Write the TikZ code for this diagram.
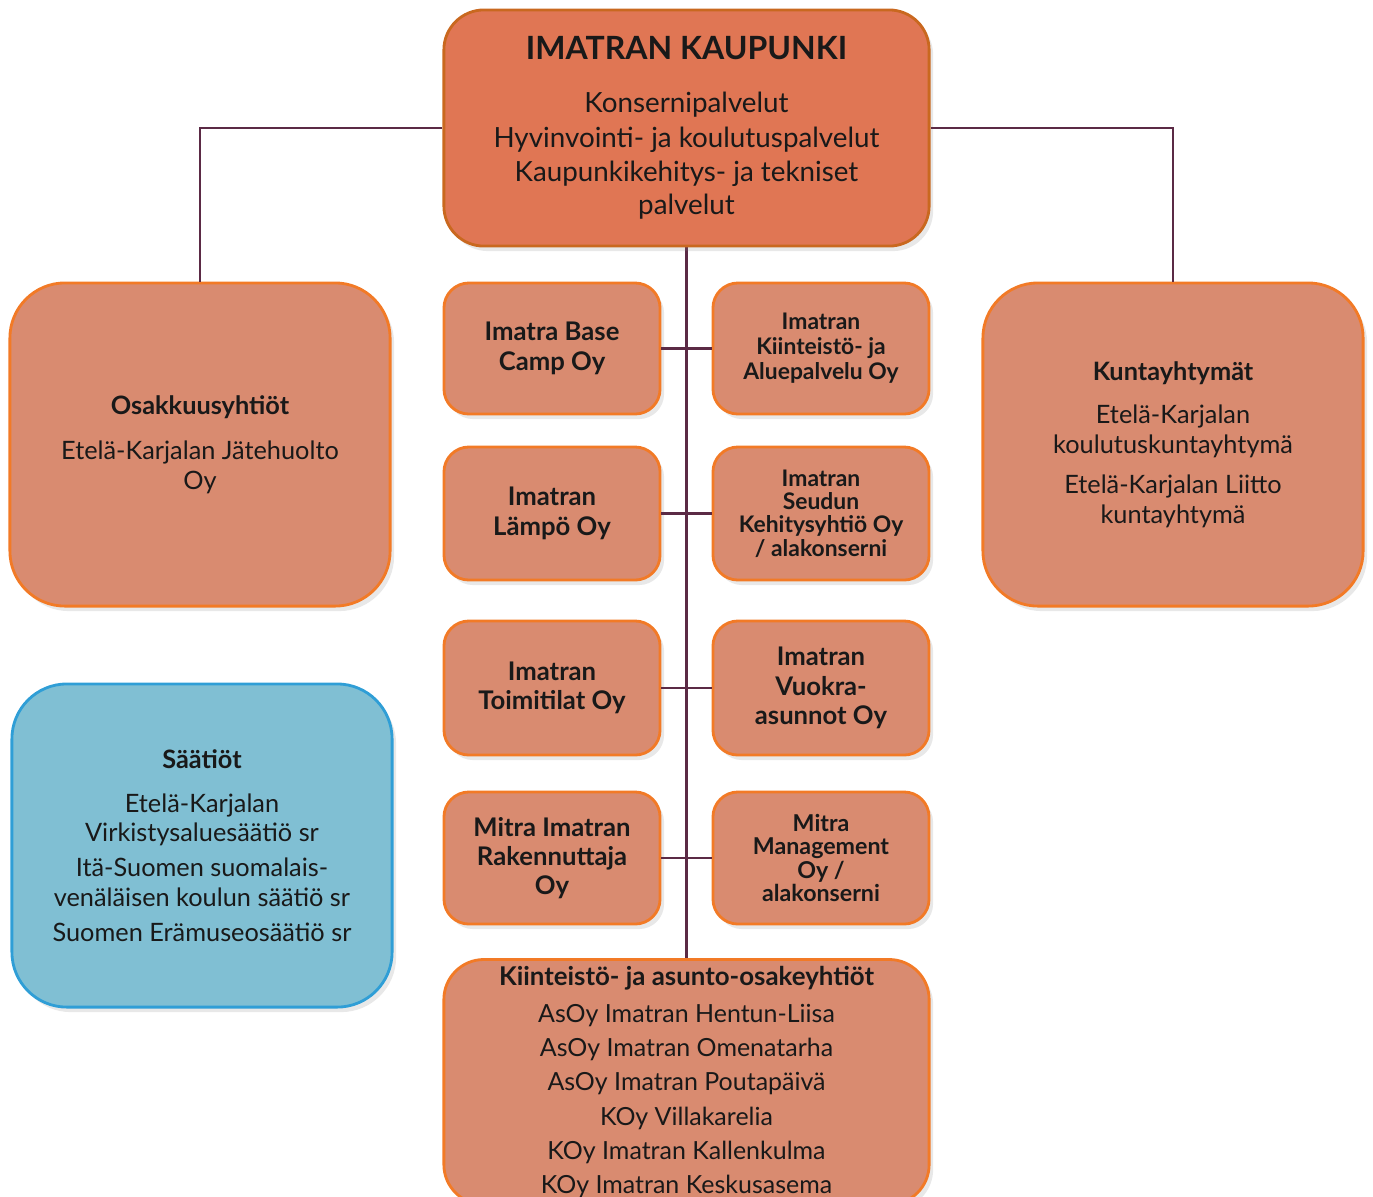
\documentclass[tikz,border=0pt]{standalone}
\usepackage{fontspec}
\setmainfont{Lato}
\usetikzlibrary{shadows}
\definecolor{topfill}{HTML}{E07654}
\definecolor{topline}{HTML}{C9681F}
\definecolor{unitfill}{HTML}{D98B70}
\definecolor{unitline}{HTML}{F27A26}
\definecolor{fundfill}{HTML}{80BFD3}
\definecolor{fundline}{HTML}{2F9ED6}
\definecolor{linkcol}{HTML}{5B2A45}
\newcommand{\fs}[2]{\fontsize{#1}{#2}\selectfont}
\newcommand{\hd}[1]{{\bfseries #1}}

\begin{document}
\begin{tikzpicture}[
   x=0.01cm, y=-0.01cm,
   box/.style={rounded corners=0.25cm, draw=unitline, fill=unitfill, line width=0.8pt,
      align=center, inner sep=2pt, text=black!90,
      drop shadow={opacity=0.18, shadow xshift=0.4mm, shadow yshift=-0.5mm}},
   bigbox/.style={box, rounded corners=0.55cm, minimum width=3.8cm, minimum height=3.23cm,
      font=\fs{7.2}{8.5}},
   unit/.style={box, minimum width=2.16cm, font=\bfseries\fs{7.3}{8.5}},
   small/.style={font=\bfseries\fs{6.5}{6.6}},
   fund/.style={bigbox, draw=fundline, fill=fundfill},
   link/.style={-, draw=linkcol, line width=0.7pt}
]
\useasboundingbox (0,0) rectangle (1373,1196);

% connectors first, boxes on top
\coordinate (trunktop) at (686.5,246);
\coordinate (trunkend) at (686.5,962);
\draw[link] (trunktop) -- (trunkend);

% Imatran kaupunki
\node[box, fill=topfill, draw=topline, rounded corners=0.4cm, font=\fs{7.9}{9.9},
      minimum width=4.85cm, minimum height=2.36cm] (top) at (686.5,128)
   {\hd{\fs{9.1}{9.9}IMATRAN KAUPUNKI}\\[5pt]
    Konsernipalvelut\\ Hyvinvointi- ja koulutuspalvelut\\
    Kaupunkikehitys- ja tekniset\\[-0.6pt] palvelut};

% Osakkuusyhtiot and Kuntayhtymat
\node[bigbox] (osak) at (200,444.5)
   {\hd{Osakkuusyhtiöt}\\[4.3pt]
    Etelä-Karjalan Jätehuolto\\ Oy};
\node[bigbox] (kunta) at (1173,444.5)
   {\hd{Kuntayhtymät}\\[4pt]
    Etelä-Karjalan\\ koulutuskuntayhtymä\\[2.8pt]
    Etelä-Karjalan Liitto\\ kuntayhtymä};
\draw[link] (top.west) -| (osak.north);
\draw[link] (top.east) -| (kunta.north);

% Saatiot
\node[fund, font=\fs{7.2}{8.3}] (saatiot) at (202,845.5)
   {\hd{Säätiöt}\\[4.3pt]
    Etelä-Karjalan\\ Virkistysaluesäätiö sr\\[1.7pt]
    Itä-Suomen suomalais-\\ venäläisen koulun säätiö sr\\[1.7pt]
    Suomen Erämuseosäätiö sr};

% Tytaryhtiot, row 1
\node[unit, minimum height=1.31cm] (base) at (552,348.5)
   {Imatra Base\\ Camp Oy};
\node[unit, small, minimum height=1.31cm, font=\bfseries\fs{6.5}{7.1}] (kiint) at (821,348.5)
   {Imatran\\ Kiinteistö- ja\\ Aluepalvelu Oy};
\draw[link] (base) -- (kiint);

% row 2
\node[unit, minimum height=1.33cm] (lampo) at (552,513.5)
   {Imatran\\ Lämpö Oy};
\node[unit, small, minimum height=1.33cm] (seudun) at (821,513.5)
   {Imatran\\ Seudun\\ Kehitysyhtiö Oy\\ / alakonserni};
\draw[link] (lampo) -- (seudun);

% row 3
\node[unit, minimum height=1.34cm, font=\bfseries\fs{7.3}{8.3}] (toimi) at (552,688)
   {Imatran\\ Toimitilat Oy};
\node[unit, minimum height=1.34cm, font=\bfseries\fs{7.3}{8.3}] (vuokra) at (821,688)
   {Imatran\\ Vuokra-\\ asunnot Oy};
\draw[link] (toimi) -- (vuokra);

% row 4
\node[unit, minimum height=1.32cm, font=\bfseries\fs{7.3}{8.3}] (rakenn) at (552,858)
   {Mitra Imatran\\ Rakennuttaja\\ Oy};
\node[unit, small, minimum height=1.32cm, font=\bfseries\fs{6.6}{6.7}] (mitra) at (821,858)
   {Mitra\\ Management\\ Oy /\\ alakonserni};
\draw[link] (rakenn) -- (mitra);

% Kiinteisto- ja asunto-osakeyhtiot
\node[box, rounded corners=0.4cm, minimum width=4.85cm, minimum height=2.4cm,
      font=\fs{7.1}{9.7}] (asoy) at (686.5,1082)
   {\hd{\fs{7.35}{9.7}Kiinteistö- ja asunto-osakeyhtiöt}\\[0.8pt]
    AsOy Imatran Hentun-Liisa\\ AsOy Imatran Omenatarha\\
    AsOy Imatran Poutapäivä\\ KOy Villakarelia\\
    KOy Imatran Kallenkulma\\ KOy Imatran Keskusasema};
\end{tikzpicture}
\end{document}
